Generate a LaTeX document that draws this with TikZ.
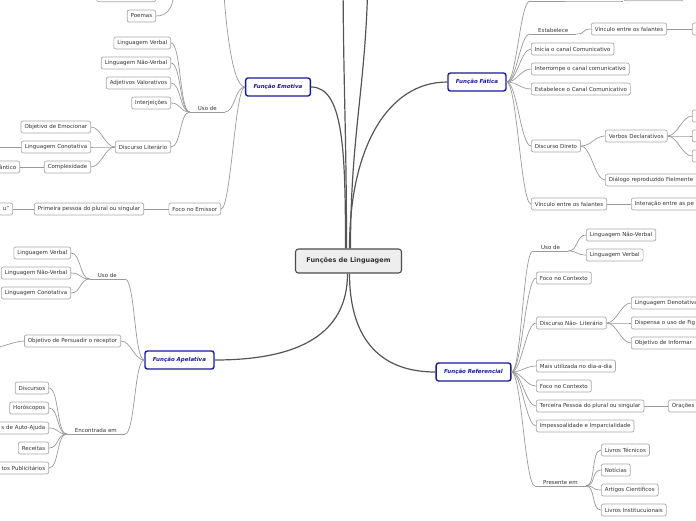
\documentclass[tikz,border=0pt]{standalone}
\usepackage{fontspec}
\setmainfont{DejaVu Sans}
\usepackage{tikz}
\definecolor{funcblue}{HTML}{1A1A9A}
\definecolor{boxgray}{HTML}{A8A8A8}
\definecolor{linegray}{HTML}{9A9A9A}
\definecolor{maingray}{HTML}{555555}
\definecolor{rootfill}{HTML}{EEEEEE}

\begin{document}
\begin{tikzpicture}[x=1pt,y=-1pt,
   leaf/.style={draw=boxgray, fill=white, rounded corners=2pt, line width=.7pt,
      font=\fontsize{5.5}{6.5}\selectfont, text=black!80, inner xsep=3.5pt,
      inner ysep=0pt, minimum height=12pt},
   func/.style={draw=funcblue, fill=white, rounded corners=2.5pt, line width=1.4pt,
      font=\fontsize{5.5}{6.5}\selectfont\bfseries\itshape, text=funcblue,
      inner xsep=8pt, inner ysep=0pt, minimum height=18pt},
   root/.style={draw=black!70, fill=rootfill, rounded corners=3pt, line width=1.1pt,
      font=\fontsize{6.5}{7.5}\selectfont\bfseries, text=black!80,
      inner xsep=11pt, inner ysep=0pt, minimum height=24pt},
   tag/.style={font=\fontsize{5.5}{6.5}\selectfont, text=black!80,
      inner xsep=8pt, inner ysep=1.5pt},
   cutl/.style={text width=#1, align=right},
   cutr/.style={text width=#1, align=left},
   link/.style={draw=linegray, line width=.7pt},
   mainlink/.style={draw=maingray, line width=1.2pt},
   toleft/.style={out=180, in=0, out distance=10pt, in distance=10pt},
   toright/.style={out=0, in=180, out distance=10pt, in distance=10pt}
]
\useasboundingbox (0,0) rectangle (696,520);
\clip (0,0) rectangle (696,520);

% centro
\node[root] (root) at (348.5,261) {Funções de Linguagem};

% funcoes
\node[func] (emo) at (278,87) {Função Emotiva};
\node[func] (fa) at (477,82) {Função Fática};
\node[func] (ap) at (179.5,360) {Função Apelativa};
\node[func] (re) at (473.5,372) {Função Referencial};

\coordinate (rootUpA) at (343,-40);
\coordinate (rootUpB) at (368,-40);

\draw[mainlink] (emo.east) .. controls +(32,0) and +(0,-100) .. ([xshift=-3pt]root.north);
\draw[mainlink] ([xshift=1pt]root.north) .. controls +(0,-100) and +(-60,0) .. (fa.west);
\draw[mainlink] ([xshift=-2pt]root.north) .. controls +(0,-120) and +(0,120) .. (rootUpA);
\draw[mainlink] ([xshift=2pt]root.north) .. controls +(0,-120) and +(0,120) .. (rootUpB);
\draw[mainlink] ([xshift=-1pt]root.south) .. controls +(0,60) and +(85,0) .. (ap.east);
\draw[mainlink] ([xshift=1pt]root.south) .. controls +(0,60) and +(-60,0) .. (re.west);

% Funcao Emotiva
\node[leaf, anchor=south east, minimum width=59pt] (emTop) at (156,2) {};
\node[leaf, anchor=east] (emPoemas) at (156,16) {Poemas};
\coordinate (emPoemasUp) at (174,-40);
\coordinate (emUp) at (222,-40);

\node[tag, anchor=south east] (emUso) at (225,112) {Uso de};
\node[leaf, anchor=east] (emVerbal) at (171,43) {Linguagem Verbal};
\node[leaf, anchor=east] (emNaoVerbal) at (171,63) {Linguagem Não-Verbal};
\node[leaf, anchor=east] (emAdjetivos) at (171,83) {Adjetivos Valorativos};
\node[leaf, anchor=east] (emInterj) at (171,103) {Interjeições};
\node[leaf, anchor=east] (emLiterario) at (171,147) {Discurso Literário};

\node[leaf, anchor=east] (emEmocionar) at (91,127) {Objetivo de Emocionar};
\node[leaf, anchor=east] (emConotativa) at (91,147) {Linguagem Conotativa};
\node[leaf, anchor=east] (emComplex) at (91,167) {Complexidade};
\node[leaf, anchor=east, cutl=40pt] (emSemantico) at (20,167) {ântico};
\coordinate (emConotativaOut) at (-15,147);

\node[leaf, anchor=east] (emFoco) at (221,209) {Foco no Emissor};
\node[leaf, anchor=east] (emPessoa) at (144,209) {Primeira pessoa do plural ou singular};
\node[leaf, anchor=east, cutl=30pt] (emEu) at (13,209) {u"};

\draw[link] (emTop.east) to[out=0, in=270] (emPoemasUp);
\draw[link] (emPoemas.east) to[out=0, in=270] (emPoemasUp);
\draw[link] (emo.west) .. controls +(-14,0) and +(2,50) .. (emUp);
\draw[link] (emo.west) to[toleft] (emUso.south east);
\draw[link] (emUso.south east) -- (emUso.south west);
\foreach \n in {emVerbal,emNaoVerbal,emAdjetivos,emInterj,emLiterario}
   \draw[link] (emUso.south west) to[toleft] (\n.east);
\foreach \n in {emEmocionar,emConotativa,emComplex}
   \draw[link] (emLiterario.west) to[toleft] (\n.east);
\draw[link] (emComplex.west) -- (emSemantico.east);
\draw[link] (emConotativa.west) -- (emConotativaOut);
\draw[link] (emo.west) to[toleft] (emFoco.east);
\draw[link] (emFoco.west) -- (emPessoa.east);
\draw[link] (emPessoa.west) -- (emEu.east);

% Funcao Fatica
\coordinate (faTopA) at (530,1);
\coordinate (faTopB) at (600,1);
\node[leaf, anchor=south west, minimum width=60pt] (faTop) at (623,1) {};

\node[tag, anchor=south west] (faEstabelece) at (530,34) {Estabelece};
\node[leaf, anchor=west] (faVinculoA) at (591,29) {Vínculo entre os falantes};
\node[leaf, anchor=west, minimum width=30pt] (faVinculoAOut) at (692,29) {};
\node[leaf, anchor=west] (faInicia) at (531,49) {Inicia o canal Comunicativo};
\node[leaf, anchor=west] (faInterrompe) at (531,69) {Interrompe o canal comunicativo};
\node[leaf, anchor=west] (faCanal) at (531,89) {Estabelece o Canal Comunicativo};
\node[leaf, anchor=west] (faDireto) at (531,146) {Discurso Direto};
\node[leaf, anchor=west] (faVerbos) at (605,136) {Verbos Declarativos};
\node[leaf, anchor=west, minimum width=30pt] (faVerbosA) at (692,116) {};
\node[leaf, anchor=west, minimum width=30pt] (faVerbosB) at (692,136) {};
\node[leaf, anchor=west, minimum width=30pt] (faVerbosC) at (692,156) {};
\node[leaf, anchor=west, cutr=100pt] (faDialogo) at (605,180) {Diálogo reproduzido Fielmente};
\node[leaf, anchor=west] (faVinculoB) at (531,204) {Vínculo entre os falantes};
\node[leaf, anchor=west, cutr=90pt] (faInteracao) at (631,204) {Interação entre as pe};

\draw[link] (fa.east) to[toright] (faTopA);
\draw[link] (faTopA) -- (faTopB) to[toright] (faTop.south west);
\draw[link] (fa.east) to[toright] (faEstabelece.south west);
\draw[link] (faEstabelece.south west) -- (faEstabelece.south east);
\draw[link] (faEstabelece.south east) to[toright] (faVinculoA.west);
\draw[link] (faVinculoA.east) -- (faVinculoAOut.west);
\foreach \n in {faInicia,faInterrompe,faCanal,faDireto,faVinculoB}
   \draw[link] (fa.east) to[toright] (\n.west);
\draw[link] (faDireto.east) to[toright] (faVerbos.west);
\draw[link] (faDireto.east) to[toright] (faDialogo.west);
\foreach \n in {faVerbosA,faVerbosB,faVerbosC}
   \draw[link] (faVerbos.east) to[toright] (\n.west);
\draw[link] (faVinculoB.east) -- (faInteracao.west);

% Funcao Apelativa
\node[tag, anchor=south east] (apUso) at (125,279) {Uso de};
\node[leaf, anchor=east] (apVerbal) at (71,253) {Linguagem Verbal};
\node[leaf, anchor=east] (apNaoVerbal) at (71,273) {Linguagem Não-Verbal};
\node[leaf, anchor=east] (apConotativa) at (71,293) {Linguagem Conotativa};

\node[leaf, anchor=east] (apPersuadir) at (121,341) {Objetivo de Persuadir o receptor};
\coordinate (apPersuadirOut) at (-15,350);

\node[tag, anchor=south east] (apEncontrada) at (125,434) {Encontrada em};
\node[leaf, anchor=east] (apDiscursos) at (49,388) {Discursos};
\node[leaf, anchor=east] (apHoroscopos) at (49,408) {Horóscopos};
\node[leaf, anchor=east, cutl=70pt] (apAutoAjuda) at (49,428) {s de Auto-Ajuda};
\node[leaf, anchor=east] (apReceitas) at (49,448) {Receitas};
\node[leaf, anchor=east, cutl=70pt] (apPublicitarios) at (49,468) {tos Publicitários};

\draw[link] (ap.west) to[toleft] (apUso.south east);
\draw[link] (apUso.south east) -- (apUso.south west);
\foreach \n in {apVerbal,apNaoVerbal,apConotativa}
   \draw[link] (apUso.south west) to[toleft] (\n.east);
\draw[link] (ap.west) to[toleft] (apPersuadir.east);
\draw[link] (apPersuadir.west) to[toleft] (apPersuadirOut);
\draw[link] (ap.west) to[toleft] (apEncontrada.south east);
\draw[link] (apEncontrada.south east) -- (apEncontrada.south west);
\foreach \n in {apDiscursos,apHoroscopos,apAutoAjuda,apReceitas,apPublicitarios}
   \draw[link] (apEncontrada.south west) to[toleft] (\n.east);

% Funcao Referencial
\node[tag, anchor=south west] (reUso) at (533,251) {Uso de};
\node[leaf, anchor=west] (reNaoVerbal) at (586,235) {Linguagem Não-Verbal};
\node[leaf, anchor=west] (reVerbal) at (586,255) {Linguagem Verbal};
\node[leaf, anchor=west] (reFocoA) at (536,278) {Foco no Contexto};
\node[leaf, anchor=west] (reNaoLiterario) at (536,323) {Discurso Não- Literário};
\node[leaf, anchor=west, cutr=80pt] (reDenotativa) at (631,303) {Linguagem Denotativa};
\node[leaf, anchor=west, cutr=80pt] (reFiguras) at (631,323) {Dispensa o uso de Fig};
\node[leaf, anchor=west, cutr=80pt] (reInformar) at (631,343) {Objetivo de Informar};
\node[leaf, anchor=west] (reDiaADia) at (536,366) {Mais utilizada no dia-a-dia};
\node[leaf, anchor=west] (reFocoB) at (536,386) {Foco no Contexto};
\node[leaf, anchor=west] (reTerceira) at (536,406) {Terceira Pessoa do plural ou singular};
\node[leaf, anchor=west, cutr=40pt] (reOracoes) at (668,406) {Orações};
\node[leaf, anchor=west] (reImpessoal) at (536,426) {Impessoalidade e Imparcialidade};
\node[tag, anchor=south west] (rePresente) at (535,486) {Presente em};
\node[leaf, anchor=west] (reTecnicos) at (601,450) {Livros Técnicos};
\node[leaf, anchor=west] (reNoticias) at (601,470) {Notícias};
\node[leaf, anchor=west] (reArtigos) at (601,490) {Artigos Científicos};
\node[leaf, anchor=west] (reInstit) at (601,510) {Livros Institucuionais};

\draw[link] (re.east) to[toright] (reUso.south west);
\draw[link] (reUso.south west) -- (reUso.south east);
\foreach \n in {reNaoVerbal,reVerbal}
   \draw[link] (reUso.south east) to[toright] (\n.west);
\foreach \n in {reFocoA,reNaoLiterario,reDiaADia,reFocoB,reTerceira,reImpessoal}
   \draw[link] (re.east) to[toright] (\n.west);
\foreach \n in {reDenotativa,reFiguras,reInformar}
   \draw[link] (reNaoLiterario.east) to[toright] (\n.west);
\draw[link] (reTerceira.east) -- (reOracoes.west);
\draw[link] (re.east) to[toright] (rePresente.south west);
\draw[link] (rePresente.south west) -- (rePresente.south east);
\foreach \n in {reTecnicos,reNoticias,reArtigos,reInstit}
   \draw[link] (rePresente.south east) to[toright] (\n.west);

\end{tikzpicture}
\end{document}
